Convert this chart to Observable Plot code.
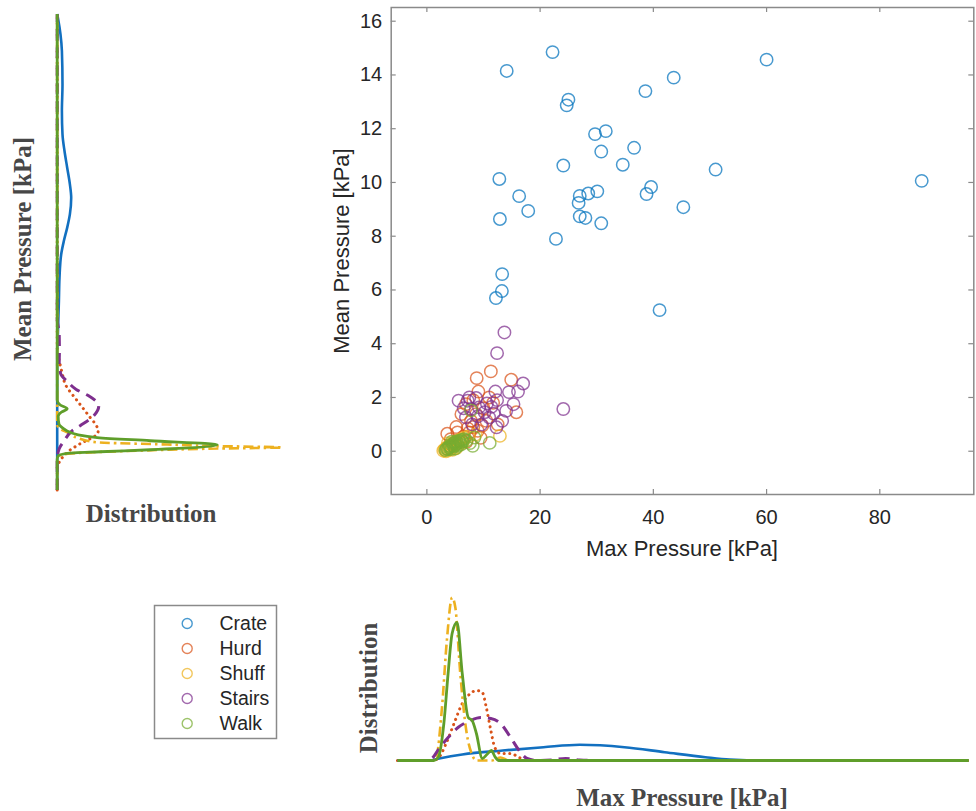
<!DOCTYPE html>
<html><head><meta charset="utf-8">
<script src="https://cdn.jsdelivr.net/npm/d3@7"></script>
<script src="https://cdn.jsdelivr.net/npm/@observablehq/plot@0.6"></script>
<style>
body{margin:0;background:#fff;}
#wrap{position:relative;width:976px;height:811px;overflow:hidden;background:#fff;}
.lbl{position:absolute;white-space:nowrap;transform:translate(-50%,-50%);line-height:1;}
.rot{transform:translate(-50%,-50%) rotate(-90deg);}
.serif{font-family:"Liberation Serif","Times New Roman",serif;font-weight:bold;font-size:25px;color:#474747;}
.sans{font-family:"Liberation Sans",Arial,sans-serif;font-size:22px;color:#262626;}
</style></head><body><div id="wrap"></div><script>
// ---------- data ----------
const categories = ["Crate", "Hurd", "Shuff", "Stairs", "Walk"];
const xTicks = [0, 20, 40, 60, 80];
const yTicks = [0, 2, 4, 6, 8, 10, 12, 14, 16];

// scatter: [Max Pressure, Mean Pressure] (kPa)
const crate = [[22.2,14.85],[14.1,14.15],[43.6,13.9],[38.6,13.4],[25.0,13.08],[24.7,12.87],[29.7,11.8],[31.6,11.91],[30.8,11.15],[36.6,11.29],[24.1,10.63],[34.6,10.66],[12.8,10.13],[16.3,9.49],[17.9,8.94],[12.9,8.64],[27.0,9.5],[28.5,9.59],[30.1,9.67],[26.8,9.24],[27.0,8.74],[28.0,8.68],[30.8,8.48],[22.8,7.9],[39.6,9.83],[38.8,9.57],[45.3,9.08],[13.3,6.59],[13.25,5.96],[12.2,5.7],[41.1,5.25],[87.4,10.06],[51.0,10.48],[60.0,14.57]];
const hurd = [[3.6,0.65],[5.4,0.7],[4.2,0.45],[5.2,0.9],[6.1,1.38],[6.5,0.55],[7.0,0.35],[7.5,0.7],[7.8,1.13],[8.2,0.9],[8.7,1.38],[9.0,0.76],[9.5,0.5],[9.1,2.22],[8.8,2.72],[10.0,1.6],[10.5,1.13],[11.0,2.0],[11.3,2.97],[11.7,1.8],[12.5,1.0],[14.9,2.66],[15.8,1.45],[6.9,1.75],[8.2,1.9],[9.8,0.95],[7.2,0.85]];
const shuff = [[2.9,0.02],[3.1,0.06],[3.3,0.1],[3.4,0.0],[3.6,0.15],[3.8,0.05],[3.9,0.2],[4.1,0.1],[4.2,0.25],[4.4,0.15],[4.6,0.3],[4.8,0.2],[5.0,0.35],[5.3,0.28],[5.6,0.4],[6.0,0.45],[6.6,0.5],[7.4,0.55],[8.6,0.62],[12.9,0.57],[3.7,0.3],[4.5,0.05],[5.2,0.12],[6.3,0.3]];
const stairs = [[13.7,4.42],[12.4,3.65],[17.0,2.52],[16.1,2.22],[14.5,2.2],[12.1,2.22],[12.4,1.9],[10.6,1.78],[5.6,1.88],[7.2,1.88],[8.7,1.98],[9.2,1.63],[11.4,1.65],[14.0,1.5],[13.3,1.13],[11.0,1.26],[9.6,0.99],[12.3,0.89],[7.8,1.57],[6.9,1.26],[24.1,1.57],[8.0,1.0],[10.2,1.45],[15.3,1.75],[6.5,1.6],[9.0,1.3],[11.8,1.4],[7.5,2.0]];
const walk = [[3.3,0.04],[3.5,0.1],[3.7,0.08],[3.9,0.14],[4.0,0.2],[4.2,0.16],[4.3,0.08],[4.5,0.22],[4.6,0.28],[4.8,0.18],[4.9,0.32],[5.1,0.25],[5.2,0.36],[5.4,0.3],[5.5,0.2],[5.7,0.38],[5.9,0.33],[6.1,0.42],[6.3,0.36],[6.6,0.45],[7.0,0.4],[4.4,0.35],[5.0,0.1],[6.0,0.25],[8.1,0.2],[8.4,0.51],[11.1,0.31],[7.6,0.3],[7.8,1.52]];

// marginal distributions: [Mean Pressure, density]
const crateMeanDens = [[-1.44,0],[3.74,0],[4.36,0.007],[5.59,0.017],[6.46,0.023],[7.33,0.04],[7.83,0.067],[8.32,0.10],[8.82,0.127],[9.43,0.14],[9.93,0.127],[10.55,0.10],[11.17,0.073],[11.79,0.053],[12.66,0.047],[13.65,0.053],[14.89,0.047],[15.51,0.033],[16.13,0.007],[16.27,0]];
const hurdMeanDens = [[-1.44,0],[-0.6,0],[-0.35,0.03],[0.02,0.12],[0.28,0.23],[0.64,0.40],[0.76,0.41],[0.89,0.40],[1.32,0.316],[1.88,0.2],[2.5,0.08],[2.9,0.05],[3.44,0.016],[3.7,0],[16.27,0]];
const shuffMeanDens = [[-1.44,0],[-0.35,0],[-0.2,0.01],[-0.1,0.08],[-0.04,0.35],[0.02,0.8],[0.1,1.6],[0.14,2.25],[0.2,1.5],[0.25,1.1],[0.33,0.40],[0.5,0.2],[0.7,0.10],[0.83,0.03],[1.0,0],[16.27,0]];
const stairsMeanDens = [[-1.44,0],[-0.3,0],[0.09,0.02],[0.39,0.07],[0.76,0.15],[0.95,0.23],[1.32,0.366],[1.69,0.416],[2.07,0.31],[2.3,0.19],[2.6,0.1],[2.88,0.035],[3.3,0.02],[3.7,0.022],[4.4,0.02],[4.9,0],[16.27,0]];
const walkMeanDens = [[-1.44,0],[-0.3,0],[-0.17,0.01],[-0.08,0.1],[-0.02,0.43],[0.055,0.93],[0.24,1.6],[0.39,0.93],[0.51,0.40],[0.62,0.2],[0.7,0.13],[0.85,0.06],[1.02,0.017],[1.3,0.01],[1.45,0.04],[1.58,0.10],[1.72,0.03],[1.9,0],[16.27,0]];

// marginal distributions: [Max Pressure, density]
const crateMaxDens = [[-5.2,0],[0.5,0],[1.95,0.017],[6.25,0.06],[13.4,0.10],[20.6,0.133],[27.0,0.157],[34.9,0.133],[42.0,0.083],[49.2,0.033],[53.5,0.01],[60,0],[95.7,0]];
const hurdMaxDens = [[-5.2,0],[1.0,0],[1.95,0.02],[3.4,0.17],[4.8,0.37],[6.25,0.57],[7.7,0.67],[8.75,0.70],[9.8,0.68],[10.5,0.53],[11.3,0.3],[12.0,0.13],[13.0,0.07],[14.8,0.07],[16.3,0.03],[17.7,0],[95.7,0]];
const shuffMaxDens = [[-5.2,0],[1.0,0],[1.6,0.02],[2.67,0.53],[3.53,1.2],[4.46,1.63],[5.03,1.53],[5.9,0.87],[6.96,0.3],[8.04,0.05],[8.75,0],[11.5,0],[13.0,0.03],[14.5,0],[95.7,0]];
const stairsMaxDens = [[-5.2,0],[0.3,0],[0.88,0.02],[2.3,0.13],[3.75,0.23],[5.5,0.33],[7.7,0.40],[9.5,0.43],[11.3,0.42],[13.0,0.37],[14.8,0.23],[16.3,0.1],[17.7,0.02],[19.5,0],[22,0.005],[24.5,0.02],[27,0.005],[30,0],[95.7,0]];
const walkMaxDens = [[-5.2,0],[1.2,0],[2.0,0.03],[3.0,0.37],[3.75,0.87],[4.46,1.27],[5.32,1.38],[6.25,0.87],[7.3,0.43],[8.0,0.40],[8.75,0.27],[9.8,0.02],[10.6,0.06],[11.4,0.10],[12.0,0.04],[12.7,0],[95.7,0]];

// ---------- styles ----------
const palette = ["#0072BD", "#D95319", "#EDB120", "#7E2F8E", "#77AC30"];
const lineColors = ["#1270c0", "#d95319", "#edb120", "#7e2f8e", "#5f9e2a"];
const dashes = [null, "0.1 5.5", "10 4 2.5 4", "11 7", null];
const widths = [2.6, 3, 2.6, 3, 2.8];
const caps = ["butt", "round", "butt", "butt", "butt"];
const axisGray = "#8a8a8a";

const groups = [crate, hurd, shuff, stairs, walk];
const meanDens = [crateMeanDens, hurdMeanDens, shuffMeanDens, stairsMeanDens, walkMeanDens];
const maxDens = [crateMaxDens, hurdMaxDens, shuffMaxDens, stairsMaxDens, walkMaxDens];

const wrap = document.getElementById("wrap");
function place(el, left, top) {
  el.style.position = "absolute"; el.style.left = left + "px"; el.style.top = top + "px";
  el.style.maxWidth = "none"; el.style.background = "transparent";
  wrap.appendChild(el);
}
function label(text, cls, x, y, rot) {
  const d = document.createElement("div");
  d.className = "lbl " + cls + (rot ? " rot" : "");
  d.textContent = text; d.style.left = x + "px"; d.style.top = y + "px";
  wrap.appendChild(d);
}

const xDomain = [-6.3, 96.6];
const yDomain = [-1.61, 16.51];

// ---------- main scatter ----------
const W = 676, H = 580, mL = 90.7, mR = 2.7, mT = 7, mB = 86;
const innerW = W - mL - mR, innerH = H - mT - mB;
const scatterData = categories.flatMap((c, i) => groups[i].map(([mx, mn]) => ({cat: c, max: mx, mean: mn})));
const main = Plot.plot({
  width: W, height: H, marginLeft: mL, marginRight: mR, marginTop: mT, marginBottom: mB,
  x: {domain: xDomain}, y: {domain: yDomain},
  color: {domain: categories, range: palette},
  style: {fontFamily: "Liberation Sans, Arial, sans-serif", fontSize: "20px", color: "#262626"},
  marks: [
    Plot.ruleX(xTicks, {x: d => d, insetTop: innerH - 5, stroke: axisGray, strokeWidth: 1.2}),
    Plot.ruleX(xTicks, {x: d => d, insetBottom: innerH - 5, stroke: axisGray, strokeWidth: 1.2}),
    Plot.ruleY(yTicks, {y: d => d, insetRight: innerW - 5, stroke: axisGray, strokeWidth: 1.2}),
    Plot.ruleY(yTicks, {y: d => d, insetLeft: innerW - 5, stroke: axisGray, strokeWidth: 1.2}),
    Plot.frame({stroke: axisGray, strokeWidth: 1.5}),
    Plot.axisX(xTicks, {tickSize: 0, tickPadding: 15, label: null, fill: "#262626"}),
    Plot.axisY(yTicks, {tickSize: 0, tickPadding: 9, label: null, fill: "#262626"}),
    Plot.dot(scatterData, {x: "max", y: "mean", stroke: "cat", r: 6.2, strokeWidth: 1.5, strokeOpacity: 0.72, fill: "none"})
  ]
});
place(main, 300, 0);
label("Mean Pressure [kPa]", "sans", 342, mT + innerH / 2, true);
label("Max Pressure [kPa]", "sans", 300 + mL + innerW / 2, 549, false);

// ---------- left marginal (Mean Pressure distribution) ----------
const left = Plot.plot({
  width: 300, height: 500, marginLeft: 56.7, marginRight: 13.3, marginTop: mT, marginBottom: 500 - mT - innerH,
  x: {domain: [0, 2.3], axis: null}, y: {domain: yDomain, axis: null},
  marks: categories.map((c, i) => Plot.line(meanDens[i], {
    x: d => d[1], y: d => d[0], curve: "monotone-y",
    stroke: lineColors[i], strokeWidth: widths[i], strokeDasharray: dashes[i], strokeLinecap: caps[i]
  }))
});
place(left, 0, 0);
label("Mean Pressure [kPa]", "serif", 22, 249, true);
label("Distribution", "serif", 151, 513, false);

// ---------- bottom marginal (Max Pressure distribution) ----------
const bottom = Plot.plot({
  width: W, height: 231, marginLeft: mL, marginRight: mR, marginTop: 15, marginBottom: 51,
  x: {domain: xDomain, axis: null}, y: {domain: [0, 1.65], axis: null},
  marks: categories.map((c, i) => Plot.line(maxDens[i], {
    x: d => d[0], y: d => d[1], curve: "monotone-x",
    stroke: lineColors[i], strokeWidth: widths[i], strokeDasharray: dashes[i], strokeLinecap: caps[i]
  }))
});
place(bottom, 300, 580);
label("Distribution", "serif", 368, 688, true);
label("Max Pressure [kPa]", "serif", 300 + mL + innerW / 2, 797, false);

// ---------- legend ----------
const legend = Plot.plot({
  width: 130, height: 142, marginLeft: 4, marginRight: 4, marginTop: 5, marginBottom: 4,
  y: {type: "point", domain: categories, range: [22, 123], padding: 0, axis: null},
  color: {domain: categories, range: palette},
  style: {fontFamily: "Liberation Sans, Arial, sans-serif", fontSize: "19.5px", color: "#262626"},
  marks: [
    Plot.frame({stroke: axisGray, strokeWidth: 1.5}),
    Plot.dot(categories, {y: d => d, frameAnchor: "left", dx: 32.7, r: 5, stroke: d => d, strokeWidth: 1.4, strokeOpacity: 0.72, fill: "none"}),
    Plot.text(categories, {y: d => d, text: d => d, frameAnchor: "left", dx: 65, textAnchor: "start", fill: "#262626"})
  ]
});
place(legend, 150, 600);
</script></body></html>
